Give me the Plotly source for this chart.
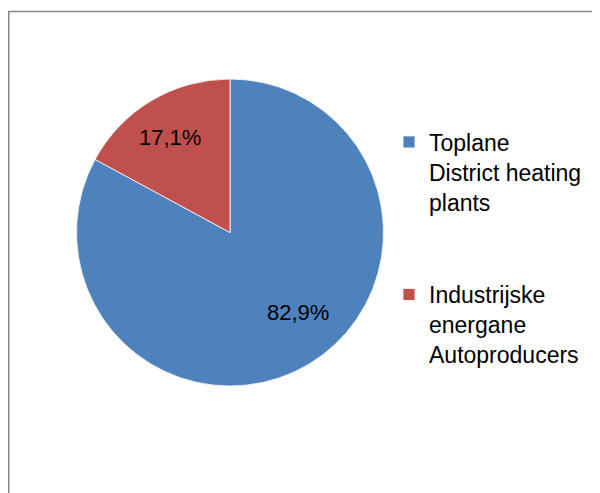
import plotly.graph_objects as go

categories = ["Toplane<br>District heating<br>plants", "Industrijske<br>energane<br>Autoproducers"]
values = [82.9, 17.1]
value_labels = ["82,9%", "17,1%"]
colors = ["#4F81BD", "#C0504D"]

# legend labels (extra blank lines reproduce the gap between entries)
legend_labels = [categories[0] + "<br> <br> ", categories[1]]

W, H = 600, 493
# geometry in figure pixels (page body adds an 8px offset)
cx, cy, r = 222, 224.5, 153.5
label_pos = [(290, 304), (162, 129)]
FONT = "Liberation Sans, Arial, sans-serif"

fig = go.Figure(go.Pie(
    labels=legend_labels,
    values=values,
    textinfo="none",
    marker=dict(colors=colors, line=dict(color="white", width=0.8)),
    sort=False,
    direction="clockwise",
    rotation=0,
    domain=dict(x=[(cx - r) / W, (cx + r) / W], y=[1 - (cy + r) / H, 1 - (cy - r) / H]),
    hoverinfo="label+percent",
))

annotations = [
    dict(x=px / W, y=1 - py / H, xref="paper", yref="paper", text=t,
         showarrow=False, xanchor="center", yanchor="middle",
         font=dict(family=FONT, size=22, color="black"))
    for t, (px, py) in zip(value_labels, label_pos)
]

fig.update_layout(
    width=W, height=H,
    margin=dict(l=0, r=0, t=0, b=0),
    paper_bgcolor="white",
    showlegend=True,
    legend=dict(
        x=381 / W, xanchor="left",
        y=1 - 112.5 / H, yanchor="top",
        valign="top",
        font=dict(family=FONT, size=23, color="black"),
        bgcolor="rgba(0,0,0,0)",
    ),
    annotations=annotations,
    shapes=[dict(
        type="rect", xref="paper", yref="paper",
        x0=0.75 / W, x1=1.05, y0=-0.05, y1=1 - 3.5 / H,
        line=dict(color="#878787", width=1.5),
        fillcolor="rgba(0,0,0,0)", layer="below",
    )],
)

fig.write_html("out.html")
